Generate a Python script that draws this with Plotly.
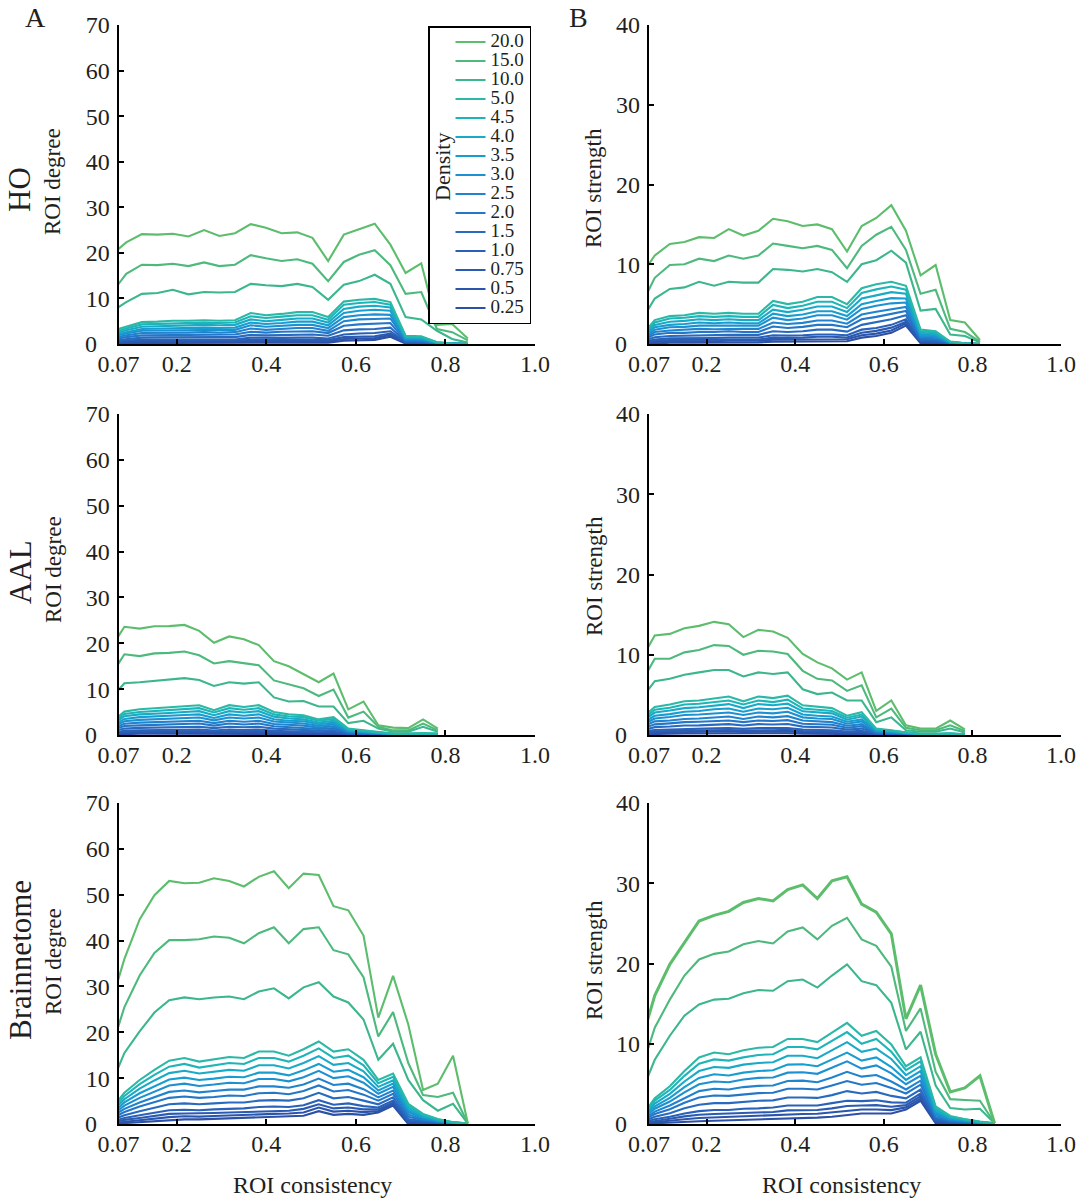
import plotly.graph_objects as go

# ---------------- data ----------------
# ROI consistency sampling (HO degree is sampled on its own, slightly wider grid)
x_consistency = [0.05, 0.083, 0.117, 0.15, 0.183, 0.217, 0.25, 0.283, 0.317, 0.35, 0.383, 0.417,
                 0.45, 0.483, 0.517, 0.55, 0.583, 0.617, 0.65, 0.683, 0.717, 0.75, 0.783, 0.817, 0.85]
x_consistency_ho_deg = [0.053, 0.087, 0.122, 0.157, 0.191, 0.226, 0.261, 0.295, 0.330, 0.365, 0.399, 0.434,
                        0.469, 0.503, 0.538, 0.573, 0.607, 0.642, 0.677, 0.711, 0.746, 0.781, 0.815, 0.85]
x_consistency_ho_str = x_consistency[:24]
x_consistency_aal = x_consistency[:23]

density_labels = ["0.25", "0.5", "0.75", "1.0", "1.5", "2.0", "2.5", "3.0", "3.5", "4.0",
                  "4.5", "5.0", "10.0", "15.0", "20.0"]
density_colors = ["#2C50A5", "#2B55AB", "#2A5AB1", "#2961B8", "#276AC0", "#2476C8", "#2083CE",
                  "#1D90D2", "#189DD0", "#18AAC6", "#1DB5B8", "#2CB8A6", "#3CB68C", "#4DB97C", "#5CBD6C"]

x_tick_values = [0.07, 0.2, 0.4, 0.6, 0.8, 1.0]
x_tick_labels = ["0.07", "0.2", "0.4", "0.6", "0.8", "1.0"]
y_tick_values_degree = [0, 10, 20, 30, 40, 50, 60, 70]
y_tick_labels_degree = ["", "10", "20", "30", "40", "50", "60", "70"]
y_tick_values_strength = [0, 10, 20, 30, 40]
y_tick_labels_strength = ["", "10", "20", "30", "40"]
y_zero_label = "0"

# HO - ROI degree
ho_deg_0_25 = [0.1, 0.2, 0.25, 0.25, 0.25, 0.25, 0.25, 0.25, 0.25, 0.35, 0.3, 0.35, 0.35, 0.35, 0.3, 0.7, 0.8, 0.9, 1.6, 0.1, 0.05, 0.0, 0.0, 0.0]
ho_deg_0_5 = [0.2, 0.4, 0.5, 0.5, 0.5, 0.5, 0.5, 0.5, 0.5, 0.7, 0.6, 0.65, 0.7, 0.7, 0.6, 1.1, 1.2, 1.3, 2.0, 0.2, 0.13, 0.02, 0.0, 0.0]
ho_deg_0_75 = [0.35, 0.55, 0.7, 0.7, 0.7, 0.7, 0.75, 0.7, 0.75, 1.0, 0.9, 1.0, 1.0, 1.0, 0.85, 1.5, 1.6, 1.7, 2.3, 0.27, 0.2, 0.04, 0.01, 0.0]
ho_deg_1_0 = [0.5, 0.8, 1.0, 1.0, 1.0, 1.0, 1.0, 1.0, 1.0, 1.4, 1.3, 1.35, 1.4, 1.4, 1.2, 2.1, 2.3, 2.4, 2.8, 0.37, 0.3, 0.06, 0.02, 0.0]
ho_deg_1_5 = [0.7, 1.1, 1.4, 1.45, 1.5, 1.5, 1.5, 1.5, 1.5, 2.0, 1.9, 2.0, 2.1, 2.1, 1.8, 3.0, 3.2, 3.3, 3.6, 0.5, 0.45, 0.1, 0.03, 0.0]
ho_deg_2_0 = [0.95, 1.5, 1.9, 1.95, 2.0, 2.0, 2.1, 2.0, 2.1, 2.7, 2.5, 2.7, 2.8, 2.8, 2.4, 4.0, 4.3, 4.4, 4.6, 0.7, 0.65, 0.15, 0.04, 0.0]
ho_deg_2_5 = [1.2, 1.9, 2.4, 2.4, 2.5, 2.5, 2.6, 2.5, 2.6, 3.4, 3.1, 3.3, 3.5, 3.5, 2.9, 5.0, 5.4, 5.5, 5.6, 0.9, 0.8, 0.19, 0.05, 0.0]
ho_deg_3_0 = [1.5, 2.3, 2.9, 2.95, 3.1, 3.1, 3.1, 3.1, 3.1, 4.1, 3.8, 4.0, 4.2, 4.2, 3.5, 5.9, 6.3, 6.5, 6.4, 1.1, 1.0, 0.23, 0.06, 0.0]
ho_deg_3_5 = [1.7, 2.6, 3.3, 3.4, 3.5, 3.5, 3.6, 3.5, 3.6, 4.7, 4.4, 4.6, 4.9, 4.9, 4.1, 6.8, 7.3, 7.5, 7.3, 1.25, 1.15, 0.27, 0.07, 0.0]
ho_deg_4_0 = [2.0, 3.0, 3.8, 3.9, 4.1, 4.1, 4.2, 4.1, 4.2, 5.4, 5.0, 5.3, 5.6, 5.6, 4.7, 7.7, 8.2, 8.4, 8.0, 1.4, 1.35, 0.32, 0.08, 0.0]
ho_deg_4_5 = [2.3, 3.4, 4.3, 4.4, 4.6, 4.6, 4.7, 4.6, 4.7, 6.1, 5.7, 6.0, 6.3, 6.3, 5.3, 8.6, 9.0, 9.2, 8.6, 1.6, 1.5, 0.36, 0.09, 0.0]
ho_deg_5_0 = [2.8, 3.8, 4.8, 4.9, 5.1, 5.1, 5.2, 5.1, 5.2, 6.8, 6.3, 6.6, 7.0, 7.0, 5.9, 9.3, 9.7, 9.9, 9.2, 1.8, 1.7, 0.4, 0.1, 0.0]
ho_deg_10_0 = [7.0, 9.2, 11.0, 11.2, 11.9, 10.9, 11.4, 11.3, 11.4, 13.2, 12.9, 12.7, 13.2, 12.5, 9.7, 13.0, 13.8, 15.2, 13.2, 5.9, 5.4, 2.9, 1.1, 0.3]
ho_deg_15_0 = [11.0, 15.4, 17.4, 17.3, 17.6, 17.1, 17.9, 17.1, 17.4, 19.5, 18.8, 18.2, 18.6, 17.6, 13.8, 18.0, 19.6, 20.6, 17.3, 11.0, 11.4, 3.3, 2.6, 0.8]
ho_deg_20_0 = [19.5, 22.3, 24.1, 24.0, 24.2, 23.6, 25.0, 23.7, 24.3, 26.3, 25.5, 24.3, 24.5, 23.3, 18.2, 24.0, 25.2, 26.4, 21.8, 15.6, 17.7, 4.2, 4.4, 1.2]

# HO - ROI strength
ho_str_0_25 = [0.0, 0.1, 0.15, 0.15, 0.15, 0.15, 0.2, 0.2, 0.2, 0.3, 0.3, 0.3, 0.35, 0.35, 0.35, 0.8, 1.0, 1.4, 2.3, 0.1, 0.05, 0.0, 0.0, 0.0]
ho_str_0_5 = [0.04, 0.25, 0.3, 0.3, 0.35, 0.35, 0.4, 0.4, 0.4, 0.55, 0.55, 0.55, 0.6, 0.6, 0.6, 1.1, 1.3, 1.7, 2.6, 0.2, 0.13, 0.02, 0.0, 0.0]
ho_str_0_75 = [0.08, 0.4, 0.5, 0.5, 0.5, 0.5, 0.55, 0.55, 0.55, 0.8, 0.75, 0.8, 0.9, 0.9, 0.8, 1.4, 1.65, 2.05, 2.8, 0.27, 0.2, 0.03, 0.01, 0.0]
ho_str_1_0 = [0.13, 0.55, 0.7, 0.7, 0.75, 0.75, 0.8, 0.8, 0.8, 1.1, 1.05, 1.1, 1.2, 1.2, 1.1, 1.8, 2.0, 2.4, 3.1, 0.37, 0.3, 0.05, 0.02, 0.0]
ho_str_1_5 = [0.2, 0.85, 1.0, 1.05, 1.1, 1.1, 1.15, 1.15, 1.15, 1.6, 1.5, 1.6, 1.8, 1.8, 1.55, 2.4, 2.7, 3.1, 3.6, 0.55, 0.45, 0.08, 0.03, 0.0]
ho_str_2_0 = [0.3, 1.2, 1.4, 1.4, 1.5, 1.5, 1.6, 1.5, 1.5, 2.2, 2.0, 2.15, 2.4, 2.4, 2.1, 3.1, 3.4, 3.8, 4.15, 0.7, 0.6, 0.11, 0.04, 0.0]
ho_str_2_5 = [0.4, 1.5, 1.7, 1.8, 1.9, 1.85, 1.9, 1.9, 1.9, 2.7, 2.5, 2.65, 2.95, 2.95, 2.55, 3.7, 4.05, 4.4, 4.65, 0.9, 0.8, 0.14, 0.05, 0.0]
ho_str_3_0 = [0.45, 1.8, 2.1, 2.15, 2.3, 2.3, 2.35, 2.3, 2.3, 3.3, 3.0, 3.2, 3.6, 3.6, 3.05, 4.4, 4.8, 5.1, 5.2, 1.05, 0.95, 0.17, 0.06, 0.0]
ho_str_3_5 = [0.55, 2.1, 2.4, 2.5, 2.7, 2.6, 2.7, 2.6, 2.6, 3.8, 3.5, 3.7, 4.1, 4.1, 3.5, 5.0, 5.4, 5.75, 5.7, 1.2, 1.1, 0.2, 0.07, 0.0]
ho_str_4_0 = [0.6, 2.4, 2.8, 2.9, 3.1, 3.0, 3.1, 3.0, 3.0, 4.3, 4.0, 4.3, 4.7, 4.7, 4.0, 5.7, 6.1, 6.5, 6.3, 1.4, 1.25, 0.24, 0.08, 0.0]
ho_str_4_5 = [0.7, 2.7, 3.2, 3.3, 3.5, 3.4, 3.5, 3.4, 3.4, 4.9, 4.5, 4.8, 5.3, 5.3, 4.5, 6.4, 6.85, 7.2, 6.8, 1.6, 1.45, 0.27, 0.09, 0.0]
ho_str_5_0 = [0.8, 3.0, 3.5, 3.6, 3.9, 3.8, 3.9, 3.8, 3.8, 5.4, 5.0, 5.3, 5.9, 5.9, 5.0, 7.0, 7.5, 7.8, 7.3, 1.8, 1.6, 0.3, 0.1, 0.0]
ho_str_10_0 = [2.7, 5.7, 6.9, 7.1, 7.8, 7.3, 7.8, 7.7, 7.7, 9.4, 9.3, 9.1, 9.4, 9.0, 7.8, 10.0, 10.5, 11.7, 10.2, 4.2, 4.4, 1.2, 1.0, 0.2]
ho_str_15_0 = [4.6, 8.3, 9.9, 10.0, 10.7, 10.4, 11.1, 10.7, 11.1, 12.6, 12.3, 12.0, 12.3, 11.8, 9.5, 12.3, 13.7, 14.7, 11.8, 6.3, 6.8, 1.9, 1.5, 0.3]
ho_str_20_0 = [8.4, 11.1, 12.55, 12.8, 13.4, 13.3, 14.4, 13.6, 14.2, 15.7, 15.4, 14.8, 15.0, 14.4, 11.6, 14.8, 15.8, 17.4, 14.2, 8.6, 9.9, 3.0, 2.7, 0.5]

# AAL - ROI degree
aal_deg_0_25 = [0.1, 0.25, 0.28, 0.3, 0.3, 0.32, 0.32, 0.27, 0.32, 0.3, 0.32, 0.25, 0.22, 0.22, 0.17, 0.2, 0.07, 0.05, 0.03, 0.02, 0.02, 0.02, 0.02]
aal_deg_0_5 = [0.2, 0.45, 0.5, 0.52, 0.54, 0.57, 0.58, 0.49, 0.58, 0.55, 0.58, 0.45, 0.4, 0.39, 0.3, 0.35, 0.13, 0.09, 0.06, 0.03, 0.03, 0.04, 0.03]
aal_deg_0_75 = [0.31, 0.66, 0.73, 0.75, 0.78, 0.82, 0.85, 0.7, 0.85, 0.8, 0.85, 0.65, 0.6, 0.56, 0.44, 0.5, 0.18, 0.13, 0.09, 0.04, 0.04, 0.05, 0.04]
aal_deg_1_0 = [0.43, 0.9, 1.0, 1.05, 1.1, 1.15, 1.2, 0.97, 1.2, 1.1, 1.2, 0.9, 0.8, 0.77, 0.6, 0.7, 0.25, 0.18, 0.13, 0.05, 0.05, 0.07, 0.05]
aal_deg_1_5 = [0.67, 1.4, 1.55, 1.6, 1.7, 1.75, 1.8, 1.5, 1.8, 1.7, 1.8, 1.4, 1.25, 1.2, 0.95, 1.1, 0.39, 0.28, 0.2, 0.08, 0.08, 0.11, 0.08]
aal_deg_2_0 = [0.9, 1.95, 2.1, 2.2, 2.3, 2.4, 2.5, 2.05, 2.5, 2.3, 2.5, 1.9, 1.7, 1.65, 1.3, 1.5, 0.53, 0.38, 0.27, 0.11, 0.11, 0.15, 0.11]
aal_deg_2_5 = [1.15, 2.45, 2.7, 2.8, 2.9, 3.0, 3.1, 2.6, 3.1, 2.9, 3.1, 2.4, 2.15, 2.05, 1.6, 1.9, 0.67, 0.48, 0.34, 0.14, 0.14, 0.19, 0.14]
aal_deg_3_0 = [1.4, 3.0, 3.3, 3.4, 3.55, 3.7, 3.8, 3.2, 3.8, 3.6, 3.8, 2.95, 2.65, 2.5, 2.0, 2.3, 0.83, 0.59, 0.41, 0.18, 0.18, 0.24, 0.18]
aal_deg_3_5 = [1.65, 3.5, 3.9, 4.0, 4.1, 4.35, 4.5, 3.7, 4.5, 4.2, 4.5, 3.45, 3.1, 3.0, 2.35, 2.7, 0.97, 0.69, 0.48, 0.21, 0.21, 0.28, 0.21]
aal_deg_4_0 = [1.9, 4.1, 4.5, 4.6, 4.8, 5.0, 5.2, 4.3, 5.2, 4.9, 5.2, 4.0, 3.6, 3.4, 2.7, 3.1, 1.1, 0.8, 0.56, 0.24, 0.24, 0.32, 0.24]
aal_deg_4_5 = [2.2, 4.6, 5.0, 5.2, 5.4, 5.7, 5.85, 4.9, 5.85, 5.5, 5.85, 4.5, 4.05, 3.9, 3.1, 3.5, 1.25, 0.9, 0.63, 0.27, 0.27, 0.36, 0.27]
aal_deg_5_0 = [2.4, 5.1, 5.6, 5.8, 6.0, 6.3, 6.5, 5.4, 6.5, 6.1, 6.5, 5.0, 4.5, 4.3, 3.4, 3.9, 1.4, 1.0, 0.7, 0.3, 0.3, 0.4, 0.3]
aal_deg_10_0 = [7.7, 11.3, 11.5, 11.8, 12.2, 12.4, 12.0, 10.7, 11.5, 11.2, 11.5, 8.2, 7.3, 7.4, 6.2, 6.2, 2.6, 3.1, 1.4, 0.7, 0.7, 1.8, 0.7]
aal_deg_15_0 = [12.6, 17.6, 17.2, 17.8, 17.9, 18.2, 17.4, 15.6, 16.1, 15.7, 15.2, 11.9, 11.0, 10.2, 8.5, 9.9, 3.8, 5.1, 1.8, 1.0, 1.0, 2.5, 1.0]
aal_deg_20_0 = [18.6, 23.6, 23.2, 23.7, 23.75, 24.0, 22.7, 20.1, 21.5, 20.9, 19.6, 16.1, 15.0, 13.2, 11.5, 13.4, 5.6, 7.3, 2.1, 1.6, 1.5, 3.4, 1.4]

# AAL - ROI strength
aal_str_0_25 = [0.08, 0.16, 0.17, 0.19, 0.2, 0.21, 0.22, 0.19, 0.22, 0.21, 0.22, 0.17, 0.16, 0.15, 0.11, 0.13, 0.04, 0.03, 0.01, 0.01, 0.01, 0.01, 0.0]
aal_str_0_5 = [0.17, 0.32, 0.34, 0.38, 0.39, 0.41, 0.43, 0.38, 0.43, 0.41, 0.44, 0.33, 0.32, 0.3, 0.22, 0.26, 0.07, 0.05, 0.03, 0.01, 0.01, 0.02, 0.01]
aal_str_0_75 = [0.25, 0.45, 0.5, 0.55, 0.56, 0.6, 0.62, 0.55, 0.62, 0.6, 0.64, 0.48, 0.45, 0.44, 0.31, 0.37, 0.1, 0.08, 0.04, 0.02, 0.02, 0.03, 0.01]
aal_str_1_0 = [0.34, 0.63, 0.68, 0.76, 0.77, 0.83, 0.86, 0.76, 0.86, 0.83, 0.88, 0.67, 0.63, 0.6, 0.43, 0.51, 0.14, 0.11, 0.05, 0.03, 0.03, 0.04, 0.02]
aal_str_1_5 = [0.53, 0.98, 1.06, 1.18, 1.2, 1.3, 1.35, 1.18, 1.35, 1.3, 1.37, 1.04, 0.98, 0.94, 0.67, 0.8, 0.22, 0.17, 0.08, 0.04, 0.04, 0.06, 0.03]
aal_str_2_0 = [0.72, 1.33, 1.45, 1.6, 1.65, 1.75, 1.8, 1.6, 1.8, 1.75, 1.85, 1.4, 1.33, 1.27, 0.9, 1.1, 0.3, 0.23, 0.11, 0.06, 0.06, 0.08, 0.04]
aal_str_2_5 = [0.9, 1.7, 1.8, 2.0, 2.05, 2.2, 2.3, 2.0, 2.3, 2.2, 2.35, 1.8, 1.7, 1.6, 1.15, 1.35, 0.38, 0.29, 0.14, 0.07, 0.07, 0.1, 0.05]
aal_str_3_0 = [1.1, 2.05, 2.25, 2.5, 2.55, 2.7, 2.8, 2.5, 2.8, 2.7, 2.9, 2.2, 2.05, 2.0, 1.4, 1.7, 0.47, 0.35, 0.18, 0.09, 0.09, 0.12, 0.06]
aal_str_3_5 = [1.3, 2.4, 2.6, 2.9, 3.0, 3.2, 3.3, 2.9, 3.3, 3.2, 3.4, 2.55, 2.4, 2.3, 1.65, 1.95, 0.55, 0.41, 0.21, 0.1, 0.1, 0.14, 0.07]
aal_str_4_0 = [1.5, 2.8, 3.05, 3.35, 3.45, 3.7, 3.85, 3.35, 3.85, 3.7, 3.9, 2.95, 2.8, 2.7, 1.9, 2.3, 0.64, 0.48, 0.24, 0.12, 0.12, 0.16, 0.08]
aal_str_4_5 = [1.7, 3.15, 3.4, 3.8, 3.9, 4.1, 4.3, 3.8, 4.3, 4.1, 4.4, 3.3, 3.15, 3.0, 2.15, 2.55, 0.72, 0.54, 0.27, 0.14, 0.14, 0.18, 0.09]
aal_str_5_0 = [1.9, 3.5, 3.8, 4.2, 4.3, 4.6, 4.8, 4.2, 4.8, 4.6, 4.9, 3.7, 3.5, 3.35, 2.4, 2.85, 0.8, 0.6, 0.3, 0.15, 0.15, 0.2, 0.1]
aal_str_10_0 = [4.3, 6.7, 7.0, 7.5, 7.8, 8.1, 8.1, 7.3, 7.8, 7.6, 7.8, 5.7, 5.1, 5.3, 4.3, 4.3, 1.6, 2.2, 0.6, 0.4, 0.4, 0.8, 0.3]
aal_str_15_0 = [6.3, 9.5, 9.5, 10.3, 10.6, 11.2, 11.1, 10.0, 10.5, 10.4, 10.1, 8.0, 7.0, 6.8, 5.5, 6.2, 2.2, 3.3, 0.9, 0.6, 0.6, 1.2, 0.5]
aal_str_20_0 = [9.2, 12.4, 12.6, 13.3, 13.6, 14.1, 13.8, 12.2, 13.1, 12.9, 12.1, 10.1, 9.05, 8.3, 6.9, 7.8, 3.0, 4.3, 1.2, 0.8, 0.8, 1.8, 0.7]

# Brainnetome - ROI degree
bn_deg_0_25 = [0.0, 0.2, 0.4, 0.7, 0.9, 1.0, 1.0, 1.1, 1.2, 1.3, 1.4, 1.5, 1.6, 1.8, 2.8, 2.0, 2.2, 2.0, 2.5, 4.0, 0.0, 0.0, 0.0, 0.0, 0.0]
bn_deg_0_5 = [0.15, 0.5, 0.9, 1.3, 1.5, 1.7, 1.6, 1.75, 1.9, 1.95, 2.1, 2.2, 2.3, 2.5, 3.6, 2.7, 2.9, 2.6, 2.85, 4.35, 0.2, 0.1, 0.05, 0.02, 0.0]
bn_deg_0_75 = [0.3, 0.9, 1.3, 1.8, 2.2, 2.3, 2.3, 2.4, 2.5, 2.6, 2.8, 2.9, 2.9, 3.3, 4.3, 3.4, 3.6, 3.2, 3.2, 4.7, 0.45, 0.2, 0.1, 0.04, 0.01]
bn_deg_1_0 = [0.45, 1.3, 1.9, 2.5, 3.0, 3.1, 3.0, 3.2, 3.3, 3.4, 3.7, 3.8, 3.7, 4.1, 5.2, 4.2, 4.5, 3.9, 3.6, 5.1, 0.7, 0.35, 0.2, 0.06, 0.02]
bn_deg_1_5 = [0.7, 1.9, 2.8, 3.6, 4.3, 4.5, 4.3, 4.5, 4.7, 4.7, 5.1, 5.2, 5.1, 5.6, 6.8, 5.6, 5.9, 5.1, 4.3, 5.8, 1.1, 0.6, 0.3, 0.1, 0.03]
bn_deg_2_0 = [1.0, 2.6, 3.8, 4.8, 5.7, 6.0, 5.7, 5.9, 6.2, 6.1, 6.7, 6.8, 6.5, 7.2, 8.4, 7.1, 7.4, 6.4, 5.1, 6.6, 1.6, 0.8, 0.4, 0.15, 0.04]
bn_deg_2_5 = [1.3, 3.3, 4.7, 5.9, 7.0, 7.3, 6.9, 7.2, 7.5, 7.5, 8.2, 8.2, 7.9, 8.6, 9.9, 8.5, 8.8, 7.6, 5.8, 7.3, 2.1, 1.0, 0.5, 0.2, 0.05]
bn_deg_3_0 = [1.6, 4.0, 5.7, 7.1, 8.4, 8.8, 8.3, 8.6, 9.0, 8.9, 9.8, 9.8, 9.3, 10.2, 11.6, 10.0, 10.4, 9.0, 6.6, 8.1, 2.6, 1.3, 0.6, 0.2, 0.1]
bn_deg_3_5 = [1.9, 4.7, 6.7, 8.2, 9.7, 10.1, 9.6, 9.9, 10.3, 10.2, 11.2, 11.2, 10.6, 11.7, 13.1, 11.4, 11.8, 10.2, 7.3, 8.8, 3.0, 1.5, 0.7, 0.3, 0.1]
bn_deg_4_0 = [2.2, 5.4, 7.7, 9.5, 11.1, 11.6, 11.0, 11.4, 11.8, 11.6, 12.8, 12.8, 12.1, 13.3, 14.8, 12.9, 13.3, 11.5, 8.1, 9.5, 3.5, 1.7, 0.9, 0.3, 0.1]
bn_deg_4_5 = [2.5, 6.1, 8.7, 10.7, 12.5, 13.1, 12.3, 12.8, 13.3, 13.1, 14.4, 14.4, 13.6, 14.9, 16.5, 14.4, 14.9, 12.8, 8.9, 10.3, 4.0, 2.0, 1.0, 0.4, 0.1]
bn_deg_5_0 = [2.8, 6.8, 9.6, 11.8, 13.8, 14.4, 13.6, 14.1, 14.6, 14.4, 15.8, 15.8, 14.9, 16.3, 18.0, 15.8, 16.3, 14.0, 9.6, 11.0, 4.4, 2.2, 1.1, 0.4, 0.1]
bn_deg_10_0 = [7.8, 15.5, 20.2, 24.3, 27.0, 27.6, 27.2, 27.6, 27.8, 27.2, 28.9, 29.6, 27.4, 29.8, 30.9, 27.8, 26.5, 22.8, 14.0, 17.5, 9.6, 5.2, 2.9, 4.4, 0.1]
bn_deg_15_0 = [15.3, 25.5, 32.4, 37.3, 40.1, 40.1, 40.3, 40.9, 40.6, 39.4, 41.6, 42.9, 39.4, 42.5, 42.9, 37.9, 37.0, 32.0, 19.1, 24.4, 13.3, 6.3, 5.9, 6.8, 0.1]
bn_deg_20_0 = [25.3, 36.0, 44.6, 49.9, 53.0, 52.5, 52.6, 53.6, 53.0, 51.8, 53.9, 55.1, 51.4, 54.6, 54.3, 47.5, 46.6, 41.1, 23.2, 32.3, 21.7, 7.4, 8.8, 14.9, 0.1]

# Brainnetome - ROI strength
bn_str_0_25 = [0.0, 0.1, 0.2, 0.3, 0.35, 0.4, 0.45, 0.5, 0.55, 0.6, 0.7, 0.75, 0.8, 0.9, 1.1, 1.3, 1.3, 1.3, 1.8, 2.9, 0.1, 0.0, 0.0, 0.0, 0.0]
bn_str_0_5 = [0.04, 0.25, 0.43, 0.6, 0.75, 0.83, 0.86, 0.94, 1.0, 1.05, 1.2, 1.24, 1.27, 1.43, 1.68, 1.8, 1.8, 1.73, 2.07, 3.17, 0.2, 0.05, 0.03, 0.02, 0.0]
bn_str_0_75 = [0.07, 0.4, 0.65, 0.95, 1.15, 1.25, 1.3, 1.4, 1.45, 1.5, 1.7, 1.75, 1.75, 1.95, 2.25, 2.3, 2.35, 2.15, 2.35, 3.45, 0.3, 0.1, 0.06, 0.03, 0.01]
bn_str_1_0 = [0.11, 0.6, 0.9, 1.3, 1.6, 1.75, 1.75, 1.9, 1.95, 2.05, 2.3, 2.3, 2.3, 2.6, 2.9, 2.85, 2.95, 2.7, 2.65, 3.8, 0.45, 0.16, 0.1, 0.05, 0.02]
bn_str_1_5 = [0.18, 0.9, 1.35, 1.95, 2.4, 2.6, 2.6, 2.75, 2.9, 2.95, 3.3, 3.3, 3.25, 3.6, 4.1, 3.8, 4.0, 3.5, 3.2, 4.3, 0.65, 0.26, 0.16, 0.08, 0.03]
bn_str_2_0 = [0.26, 1.25, 1.85, 2.65, 3.3, 3.55, 3.5, 3.7, 3.85, 3.9, 4.4, 4.4, 4.3, 4.8, 5.35, 4.9, 5.1, 4.5, 3.8, 4.9, 0.85, 0.37, 0.22, 0.11, 0.04]
bn_str_2_5 = [0.33, 1.55, 2.3, 3.25, 4.1, 4.4, 4.3, 4.6, 4.75, 4.8, 5.35, 5.4, 5.2, 5.8, 6.5, 5.9, 6.1, 5.3, 4.3, 5.4, 1.1, 0.47, 0.28, 0.14, 0.05]
bn_str_3_0 = [0.4, 1.9, 2.8, 3.95, 4.95, 5.3, 5.2, 5.55, 5.75, 5.8, 6.4, 6.45, 6.25, 7.0, 7.8, 6.9, 7.3, 6.3, 4.95, 6.0, 1.3, 0.58, 0.35, 0.17, 0.06]
bn_str_3_5 = [0.48, 2.2, 3.25, 4.6, 5.75, 6.2, 6.05, 6.4, 6.6, 6.7, 7.4, 7.45, 7.2, 8.0, 8.9, 7.9, 8.3, 7.1, 5.5, 6.6, 1.5, 0.68, 0.41, 0.2, 0.07]
bn_str_4_0 = [0.55, 2.55, 3.75, 5.3, 6.6, 7.1, 7.0, 7.4, 7.6, 7.7, 8.5, 8.5, 8.2, 9.2, 10.2, 9.0, 9.4, 8.1, 6.1, 7.2, 1.75, 0.8, 0.47, 0.24, 0.08]
bn_str_4_5 = [0.6, 2.9, 4.25, 6.0, 7.5, 8.05, 7.9, 8.3, 8.6, 8.7, 9.6, 9.6, 9.3, 10.35, 11.45, 10.0, 10.6, 9.0, 6.7, 7.8, 2.0, 0.9, 0.55, 0.27, 0.09]
bn_str_5_0 = [0.7, 3.2, 4.7, 6.6, 8.3, 8.9, 8.7, 9.2, 9.5, 9.6, 10.6, 10.6, 10.2, 11.4, 12.6, 11.0, 11.6, 9.9, 7.2, 8.3, 2.2, 1.0, 0.6, 0.3, 0.1]
bn_str_10_0 = [3.5, 8.0, 11.0, 13.5, 14.9, 15.5, 15.6, 16.3, 16.7, 16.6, 17.8, 18.0, 17.0, 18.5, 19.9, 17.8, 17.3, 15.1, 9.3, 11.5, 4.8, 2.0, 1.8, 1.9, 0.1]
bn_str_15_0 = [6.3, 12.0, 15.5, 18.5, 20.5, 21.2, 21.5, 22.4, 22.8, 22.5, 24.0, 24.5, 23.0, 24.7, 25.7, 23.0, 22.2, 19.6, 11.6, 14.4, 6.5, 3.1, 3.0, 2.9, 0.1]
bn_str_20_0 = [9.8, 16.0, 19.9, 22.6, 25.3, 26.0, 26.5, 27.6, 28.1, 27.8, 29.2, 29.8, 28.1, 30.3, 30.8, 27.4, 26.4, 23.7, 13.1, 17.3, 8.7, 4.0, 4.5, 6.0, 0.1]

y_max_degree = 70
y_max_strength = 40

# ---------------- figure ----------------
FONT = "Liberation Serif"
TEXT = "#231f20"
W, H = 1084, 1202

panels = [
    ("", x_consistency_ho_deg,
     [ho_deg_0_25, ho_deg_0_5, ho_deg_0_75, ho_deg_1_0, ho_deg_1_5, ho_deg_2_0, ho_deg_2_5, ho_deg_3_0,
      ho_deg_3_5, ho_deg_4_0, ho_deg_4_5, ho_deg_5_0, ho_deg_10_0, ho_deg_15_0, ho_deg_20_0],
     y_max_degree, (118.6, 535), (25, 344)),
    ("2", x_consistency_ho_str,
     [ho_str_0_25, ho_str_0_5, ho_str_0_75, ho_str_1_0, ho_str_1_5, ho_str_2_0, ho_str_2_5, ho_str_3_0,
      ho_str_3_5, ho_str_4_0, ho_str_4_5, ho_str_5_0, ho_str_10_0, ho_str_15_0, ho_str_20_0],
     y_max_strength, (649, 1061), (25, 344)),
    ("3", x_consistency_aal,
     [aal_deg_0_25, aal_deg_0_5, aal_deg_0_75, aal_deg_1_0, aal_deg_1_5, aal_deg_2_0, aal_deg_2_5,
      aal_deg_3_0, aal_deg_3_5, aal_deg_4_0, aal_deg_4_5, aal_deg_5_0, aal_deg_10_0, aal_deg_15_0,
      aal_deg_20_0],
     y_max_degree, (118.6, 535), (414, 735)),
    ("4", x_consistency_aal,
     [aal_str_0_25, aal_str_0_5, aal_str_0_75, aal_str_1_0, aal_str_1_5, aal_str_2_0, aal_str_2_5,
      aal_str_3_0, aal_str_3_5, aal_str_4_0, aal_str_4_5, aal_str_5_0, aal_str_10_0, aal_str_15_0,
      aal_str_20_0],
     y_max_strength, (649, 1061), (414, 735)),
    ("5", x_consistency,
     [bn_deg_0_25, bn_deg_0_5, bn_deg_0_75, bn_deg_1_0, bn_deg_1_5, bn_deg_2_0, bn_deg_2_5, bn_deg_3_0,
      bn_deg_3_5, bn_deg_4_0, bn_deg_4_5, bn_deg_5_0, bn_deg_10_0, bn_deg_15_0, bn_deg_20_0],
     y_max_degree, (118.6, 535), (803, 1124)),
    ("6", x_consistency,
     [bn_str_0_25, bn_str_0_5, bn_str_0_75, bn_str_1_0, bn_str_1_5, bn_str_2_0, bn_str_2_5, bn_str_3_0,
      bn_str_3_5, bn_str_4_0, bn_str_4_5, bn_str_5_0, bn_str_10_0, bn_str_15_0, bn_str_20_0],
     y_max_strength, (649, 1061), (803, 1124)),
]

fig = go.Figure()
layout_axes = {}
annotations = []

for p_idx, (sfx, xs, series, ymax, xdom, ydom) in enumerate(panels):
    for s_idx, (lab, col, ys) in enumerate(zip(density_labels, density_colors, series)):
        lw = 3.0 if (sfx == "6" and s_idx == len(series) - 1) else 2.1
        fig.add_trace(go.Scatter(
            x=xs, y=ys, mode="lines",
            line=dict(color=col, width=lw),
            name='<span style="font-size:19px">%s</span>' % lab,
            showlegend=(p_idx == 0),
            xaxis="x" + sfx, yaxis="y" + sfx,
            hoverinfo="skip",
        ))
    if ymax == y_max_degree:
        yvals, ytext = y_tick_values_degree, y_tick_labels_degree
    else:
        yvals, ytext = y_tick_values_strength, y_tick_labels_strength
    layout_axes["xaxis" + sfx] = dict(
        domain=[xdom[0] / W, xdom[1] / W], anchor="y" + sfx,
        range=[0.07, 1.0], tickmode="array", tickvals=x_tick_values, ticktext=x_tick_labels,
        ticks="inside", ticklen=5, tickwidth=1.5, tickcolor="black", ticklabelstandoff=-3,
        showline=True, linecolor="black", linewidth=2.2, showgrid=False, zeroline=False,
        automargin=False, tickfont=dict(family=FONT, size=24, color=TEXT),
    )
    layout_axes["yaxis" + sfx] = dict(
        domain=[1 - ydom[1] / H, 1 - ydom[0] / H], anchor="x" + sfx,
        range=[0, ymax], tickmode="array", tickvals=yvals, ticktext=ytext,
        ticks="inside", ticklen=5, tickwidth=1.5, tickcolor="black", ticklabelstandoff=2,
        showline=True, linecolor="black", linewidth=2.2, showgrid=False, zeroline=False,
        automargin=False, tickfont=dict(family=FONT, size=24, color=TEXT),
    )
    # the "0" of each y axis sits a little left of the other tick labels (as in the source figure)
    annotations.append(dict(
        text=y_zero_label, x=0.07, y=0, xref="x" + sfx, yref="y" + sfx,
        xanchor="right", yanchor="middle", xshift=-20, showarrow=False,
        font=dict(family=FONT, size=24, color=TEXT),
    ))


def add_text(text, px, py, size, angle=0, yanchor="middle"):
    annotations.append(dict(
        text=text, x=px / W, y=1 - py / H, xref="paper", yref="paper",
        xanchor="center", yanchor=yanchor, showarrow=False, textangle=angle,
        font=dict(family=FONT, size=size, color=TEXT),
    ))


add_text("A", 35, 0, 28, yanchor="top")
add_text("B", 578, 0, 28, yanchor="top")
add_text("HO", 20, 190, 31, -90)
add_text("AAL", 20, 572, 31, -90)
add_text("Brainnetome", 20, 960, 31, -90)
for yy in (182, 570, 962):
    add_text("ROI degree", 53, yy, 23, -90)
for yy in (188, 576, 960):
    add_text("ROI strength", 594, yy, 23, -90)
add_text("ROI consistency", 312, 1185, 24)
add_text("ROI consistency", 841, 1185, 24)
add_text("Density", 443, 167, 22, -90)

fig.update_layout(
    template="none",
    width=W, height=H,
    margin=dict(l=0, r=0, t=0, b=0, pad=0, autoexpand=False),
    paper_bgcolor="white", plot_bgcolor="white",
    font=dict(family=FONT, color=TEXT),
    showlegend=True,
    legend=dict(
        x=428 / W, y=1 - 26 / H, xanchor="left", yanchor="top",
        bgcolor="white", bordercolor="black", borderwidth=1.5,
        font=dict(family=FONT, size=12, color=TEXT),
        traceorder="reversed", indentation=21, itemwidth=30, tracegroupgap=0,
    ),
    annotations=annotations,
    **layout_axes,
)

fig.write_html("out.html")
